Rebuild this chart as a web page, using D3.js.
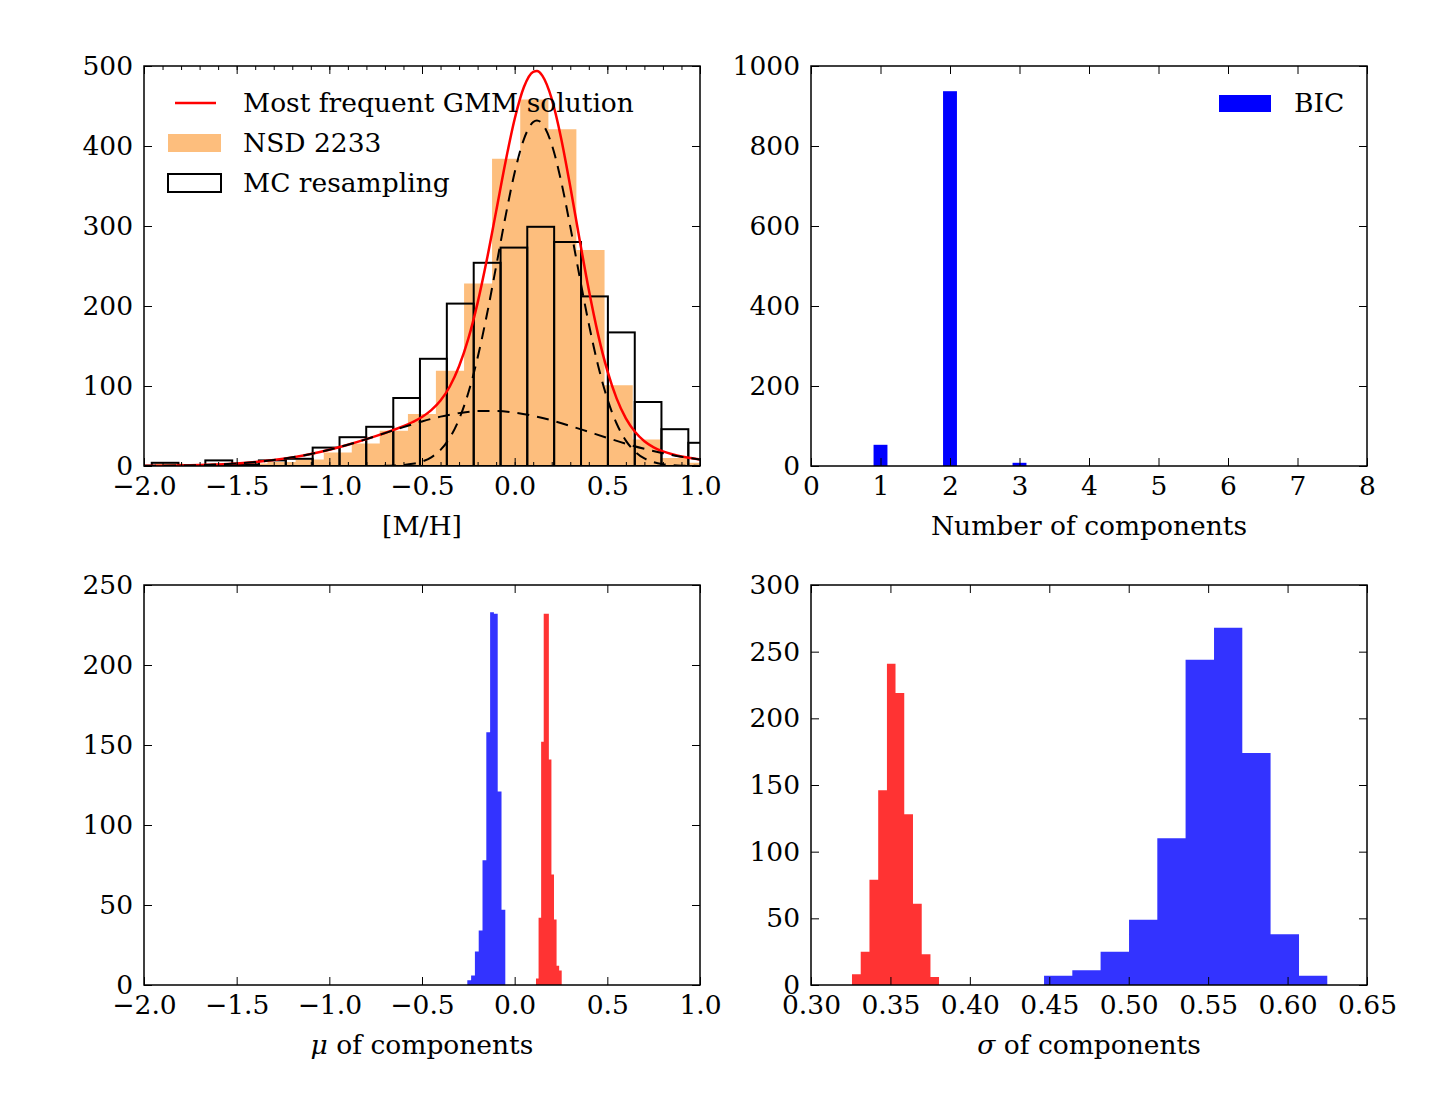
<!DOCTYPE html>
<meta charset="utf-8">
<style>

body { margin: 0; background: #fff; }
svg { display: block; }
text { font-family: "DejaVu Serif", serif; font-size: 26.5px; fill: #000; }
.axis path { display: none; }
.axis line { stroke: #000; stroke-width: 1px; }
.frame { fill: none; stroke: #000; stroke-width: 1.5px; }

</style>
<svg width="1440" height="1120">
  <rect fill="#fff" width="100%" height="100%"></rect>
</svg>
<script src="https://cdn.jsdelivr.net/npm/d3@7"></script>
<script>

// ---- top left: metallicity distribution
var mhTicks = [-2.0, -1.5, -1.0, -0.5, 0.0, 0.5, 1.0],
    mhCountTicks = [0, 100, 200, 300, 400, 500];

var nsdEdges = [-1.940, -1.788, -1.637, -1.485, -1.334, -1.182, -1.030, -0.879, -0.728, -0.576,
                -0.425, -0.273, -0.122, 0.030, 0.182, 0.333, 0.485, 0.637, 0.788, 0.940, 1.091],
    nsdCounts = [3, 2, 3, 3, 5, 8, 17, 28, 44, 65, 119, 228, 384, 458, 421, 270, 101, 33, 10, 4];

var mcEdges = [-1.958, -1.814, -1.669, -1.524, -1.380, -1.235, -1.090, -0.945, -0.801, -0.655, -0.511,
               -0.366, -0.221, -0.076, 0.068, 0.213, 0.358, 0.503, 0.648, 0.792, 0.937, 1.082],
    mcCounts = [4, 1, 7, 2, 7, 9, 23, 36, 49, 85, 134, 203, 254, 273, 299, 280, 212, 167, 80, 46, 29];

var gmmX = [-2.0, -1.9, -1.8, -1.7, -1.6, -1.5, -1.4, -1.3, -1.2, -1.1, -1.0, -0.9, -0.8,
            -0.75, -0.7, -0.65, -0.6, -0.55, -0.5, -0.45, -0.4, -0.35, -0.3, -0.25, -0.2, -0.15,
            -0.1, -0.05, 0.0, 0.05, 0.1, 0.12, 0.15, 0.2, 0.25, 0.3, 0.35, 0.4, 0.45, 0.5, 0.55,
            0.6, 0.65, 0.7, 0.75, 0.8, 0.85, 0.9, 0.95, 1.0],
    gmmTotal = [0.2, 0.4, 0.7, 1.2, 2.0, 3.2, 5.0, 7.5, 10.8, 15.0, 20.3, 26.6, 33.6,
                37.4, 41.3, 45.4, 49.8, 55.0, 61.2, 69.8, 81.8, 99.4, 124.6, 159.1, 203.9, 258.0,
                318.3, 379.4, 433.7, 473.7, 492.7, 493.7, 487.6, 458.8, 410.4, 349.3, 283.5, 220.2, 164.5, 119.1, 84.5,
                59.6, 42.5, 31.0, 23.4, 18.3, 14.7, 11.9, 9.9, 8.1];

var narrowX = [-2.0, -0.9, -0.8, -0.75, -0.7, -0.65, -0.6, -0.55, -0.5, -0.45, -0.4, -0.35, -0.3,
               -0.25, -0.2, -0.15, -0.1, -0.05, 0.0, 0.05, 0.1, 0.12, 0.15, 0.2, 0.25, 0.3, 0.35,
               0.4, 0.45, 0.5, 0.55, 0.6, 0.65, 0.7, 0.75, 0.8, 0.85, 0.9, 0.95, 1.0],
    narrowY = [0, 0, 0.0, 0.1, 0.2, 0.5, 1.2, 2.7, 5.5, 10.9, 20.1, 35.3, 58.5,
               91.5, 135.3, 189.0, 249.5, 311.3, 366.9, 408.7, 430.0, 432.0, 427.6, 401.8, 356.7, 299.2, 237.1,
               177.6, 125.7, 84.0, 53.1, 31.7, 17.9, 9.5, 4.8, 2.3, 1.0, 0.4, 0.2, 0.1];

var broadX = [-2.0, -1.9, -1.8, -1.7, -1.6, -1.5, -1.4, -1.3, -1.2, -1.1, -1.0, -0.9, -0.8, -0.7, -0.6,
              -0.5, -0.4, -0.3, -0.2, -0.1, 0.0, 0.1, 0.2, 0.3, 0.4, 0.5, 0.6, 0.7, 0.8, 0.9, 1.0],
    broadY = [0.2, 0.4, 0.7, 1.2, 2.0, 3.2, 5.0, 7.5, 10.8, 15.0, 20.3, 26.6, 33.6, 41.1, 48.6,
              55.7, 61.7, 66.1, 68.6, 68.8, 66.8, 62.7, 57.0, 50.1, 42.6, 35.1, 27.9, 21.5, 16.0, 11.5, 8.1];

// ---- top right: number of components (BIC)
var nTicks = [0, 1, 2, 3, 4, 5, 6, 7, 8],
    nCountTicks = [0, 200, 400, 600, 800, 1000],
    bicLeft = [0.9, 1.9, 2.9],
    bicRight = [1.1, 2.1, 3.1],
    bicCounts = [53, 937, 8];

// ---- bottom left: means of components
var muCountTicks = [0, 50, 100, 150, 200, 250];
var muBlueEdges = [-0.2555, -0.2350, -0.2145, -0.1940, -0.1735, -0.1530, -0.1325, -0.1120, -0.0915, -0.0710, -0.0505],
    muBlueCounts = [3, 6, 21, 34, 78, 158, 233, 232, 121, 47];
var muRedEdges = [0.1151, 0.1290, 0.1428, 0.1567, 0.1706, 0.1845, 0.1983, 0.2122, 0.2261, 0.2400, 0.2538],
    muRedCounts = [4, 42, 152, 232, 232, 141, 69, 41, 12, 9];

// ---- bottom right: widths of components
var sigTicks = [0.30, 0.35, 0.40, 0.45, 0.50, 0.55, 0.60, 0.65],
    sigCountTicks = [0, 50, 100, 150, 200, 250, 300];
var sigRedEdges = [0.3258, 0.3313, 0.3368, 0.3423, 0.3478, 0.3532, 0.3587, 0.3642, 0.3697, 0.3752, 0.3806],
    sigRedCounts = [8, 25, 79, 146, 241, 219, 128, 61, 23, 6];
var sigBlueEdges = [0.4467, 0.4645, 0.4823, 0.5002, 0.5180, 0.5358, 0.5537, 0.5715, 0.5893, 0.6072, 0.6250],
    sigBlueCounts = [7, 11, 25, 49, 110, 244, 268, 174, 38, 7];

var svg = d3.select("svg");

var cols = [[144, 700], [811, 1367]],
    rows = [[66, 466], [585, 985]];

function panel(id, col, row, xDomain, yDomain, xTicks, yTicks, xFormat) {
  var x = d3.scaleLinear().domain(xDomain).range(cols[col]),
      y = d3.scaleLinear().domain(yDomain).range([rows[row][1], rows[row][0]]);
  var g = svg.append("g");

  svg.append("clipPath").attr("id", id)
    .append("rect")
      .attr("x", cols[col][0]).attr("y", rows[row][0])
      .attr("width", cols[col][1] - cols[col][0])
      .attr("height", rows[row][1] - rows[row][0]);

  var plot = g.append("g").attr("clip-path", "url(#" + id + ")");

  var bottom = rows[row][1], top = rows[row][0], left = cols[col][0], right = cols[col][1];

  g.append("g").attr("class", "axis").attr("transform", "translate(0," + bottom + ")")
      .call(d3.axisBottom(x).tickValues(xTicks).tickFormat(xFormat).tickSize(-8).tickPadding(10));
  g.append("g").attr("class", "axis").attr("transform", "translate(0," + top + ")")
      .call(d3.axisTop(x).tickValues(xTicks).tickFormat("").tickSize(-8));
  g.append("g").attr("class", "axis").attr("transform", "translate(" + left + ",0)")
      .call(d3.axisLeft(y).tickValues(yTicks).tickFormat(d3.format("d")).tickSize(-8).tickPadding(11));
  g.append("g").attr("class", "axis").attr("transform", "translate(" + right + ",0)")
      .call(d3.axisRight(y).tickValues(yTicks).tickFormat("").tickSize(-8));

  g.append("rect").attr("class", "frame")
      .attr("x", left).attr("y", top)
      .attr("width", right - left).attr("height", bottom - top);

  g.selectAll(".axis text").attr("fill", "#000");

  return {g: g, plot: plot, x: x, y: y, cx: (left + right) / 2, bottom: bottom};
}

function stepHist(p, edges, counts, color) {
  var pts = edges.map(function(e, i) { return [e, counts[Math.min(i, counts.length - 1)]]; });
  p.plot.append("path")
      .datum(pts)
      .attr("fill", color)
      .attr("d", d3.area()
          .curve(d3.curveStepAfter)
          .x(function(d) { return p.x(d[0]); })
          .y0(p.y(0))
          .y1(function(d) { return p.y(d[1]); }));
}

function xlabel(p, parts) {
  var t = p.g.append("text")
      .attr("x", p.cx).attr("y", p.bottom + 69)
      .attr("text-anchor", "middle");
  parts.forEach(function(s) {
    t.append("tspan").attr("font-style", s[1] ? "italic" : null).text(s[0]);
  });
}

// ---------- top left
var p1 = panel("c1", 0, 0, [-2, 1], [0, 500], mhTicks, mhCountTicks, d3.format(".1f"));

var minor = d3.range(-20, 11).map(function(d) { return d / 10; });
p1.g.insert("g", ".frame").attr("class", "axis").attr("transform", "translate(0," + p1.bottom + ")")
    .call(d3.axisBottom(p1.x).tickValues(minor).tickFormat("").tickSize(-4));
p1.g.insert("g", ".frame").attr("class", "axis").attr("transform", "translate(0,66)")
    .call(d3.axisTop(p1.x).tickValues(minor).tickFormat("").tickSize(-4));

stepHist(p1, nsdEdges, nsdCounts, "#fdbe7d");

p1.plot.selectAll(".mc")
  .data(mcCounts)
  .enter().append("rect")
    .attr("x", function(d, i) { return p1.x(mcEdges[i]); })
    .attr("width", function(d, i) { return p1.x(mcEdges[i + 1]) - p1.x(mcEdges[i]); })
    .attr("y", function(d) { return p1.y(d); })
    .attr("height", function(d) { return p1.y(0) - p1.y(d); })
    .attr("fill", "none")
    .attr("stroke", "#000")
    .attr("stroke-width", 2);

var curve = function(xs, ys) {
  return d3.line()
      .curve(d3.curveMonotoneX)
      .x(function(d, i) { return p1.x(xs[i]); })
      .y(function(d) { return p1.y(d); })(ys);
};

p1.plot.append("path")
    .attr("d", curve(gmmX, gmmTotal))
    .attr("fill", "none").attr("stroke", "#ff0000").attr("stroke-width", 2.5);
p1.plot.append("path")
    .attr("d", curve(narrowX, narrowY))
    .attr("fill", "none").attr("stroke", "#000").attr("stroke-width", 2)
    .attr("stroke-dasharray", "12,8");
p1.plot.append("path")
    .attr("d", curve(broadX, broadY))
    .attr("fill", "none").attr("stroke", "#000").attr("stroke-width", 2)
    .attr("stroke-dasharray", "12,8");

var lg = p1.g.append("g");
lg.append("line").attr("x1", 175).attr("x2", 216).attr("y1", 103).attr("y2", 103)
    .attr("stroke", "#ff0000").attr("stroke-width", 2.5);
lg.append("rect").attr("x", 168).attr("y", 134).attr("width", 53).attr("height", 18)
    .attr("fill", "#fdbe7d");
lg.append("rect").attr("x", 168).attr("y", 174).attr("width", 53).attr("height", 18)
    .attr("fill", "none").attr("stroke", "#000").attr("stroke-width", 2);
lg.append("text").attr("x", 243).attr("y", 112).text("Most frequent GMM solution");
lg.append("text").attr("x", 243).attr("y", 152).text("NSD 2233");
lg.append("text").attr("x", 243).attr("y", 192).text("MC resampling");

xlabel(p1, [["[M/H]"]]);

// ---------- top right
var p2 = panel("c2", 1, 0, [0, 8], [0, 1000], nTicks, nCountTicks, d3.format("d"));

p2.plot.selectAll(".bic")
  .data(bicCounts)
  .enter().append("rect")
    .attr("x", function(d, i) { return p2.x(bicLeft[i]); })
    .attr("width", function(d, i) { return p2.x(bicRight[i]) - p2.x(bicLeft[i]); })
    .attr("y", function(d) { return p2.y(d); })
    .attr("height", function(d) { return p2.y(0) - p2.y(d); })
    .attr("fill", "#0000ff");
p2.g.selectAll(".frame").raise();
p2.g.selectAll(".axis").raise();

p2.g.append("rect").attr("x", 1219).attr("y", 95).attr("width", 52).attr("height", 17)
    .attr("fill", "#0000ff");
p2.g.append("text").attr("x", 1294).attr("y", 112).text("BIC");

xlabel(p2, [["Number of components"]]);

// ---------- bottom left
var p3 = panel("c3", 0, 1, [-2, 1], [0, 250], mhTicks, muCountTicks, d3.format(".1f"));
stepHist(p3, muBlueEdges, muBlueCounts, "rgba(0,0,255,0.8)");
stepHist(p3, muRedEdges, muRedCounts, "rgba(255,0,0,0.8)");
p3.g.selectAll(".axis").raise();
xlabel(p3, [["\u03bc", true], [" of components"]]);

// ---------- bottom right
var p4 = panel("c4", 1, 1, [0.30, 0.65], [0, 300], sigTicks, sigCountTicks, d3.format(".2f"));
stepHist(p4, sigRedEdges, sigRedCounts, "rgba(255,0,0,0.8)");
stepHist(p4, sigBlueEdges, sigBlueCounts, "rgba(0,0,255,0.8)");
p4.g.selectAll(".axis").raise();
xlabel(p4, [["\u03c3", true], [" of components"]]);

p1.g.selectAll(".axis").raise();
p1.g.selectAll(".frame").raise();
p3.g.selectAll(".frame").raise();
p4.g.selectAll(".frame").raise();

</script>
